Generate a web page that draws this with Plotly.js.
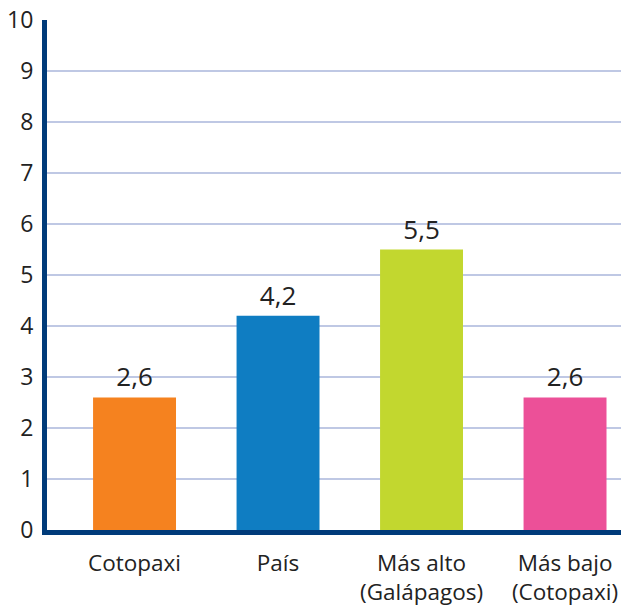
<!DOCTYPE html>
<html><head><meta charset="utf-8">
<script src="https://cdn.plot.ly/plotly-3.0.0.min.js"></script>
<style>html,body{margin:0;padding:0;background:#fff}#c{width:636px;height:613px}</style>
</head><body><div id="c"></div>
<script>
const categories = ["Cotopaxi", "País", "Más alto<br>(Galápagos)", "Más bajo<br>(Cotopaxi)"];
const values = [2.6, 4.2, 5.5, 2.6];
const colors = ["#F5821F", "#0F7DC2", "#C2D72F", "#EC5098"];
const tickVals = [0,1,2,3,4,5,6,7,8,9,10];
const labels = values.map(v => v.toFixed(1).replace('.', ','));

Plotly.newPlot('c', [{
  type: 'bar',
  x: categories,
  y: values,
  marker: {color: colors},
  width: 0.578,
  text: labels,
  textposition: 'outside',
  cliponaxis: false,
  textfont: {family: 'Open Sans, sans-serif', size: 26, color: '#222'},
  hoverinfo: 'none'
}], {
  width: 636, height: 613,
  margin: {l: 47, r: 15, t: 20, b: 83},
  paper_bgcolor: '#fff', plot_bgcolor: '#fff',
  showlegend: false,
  xaxis: {
    type: 'category',
    range: [-0.61, 3.39],
    showline: true, linecolor: '#003B7A', linewidth: 5,
    showgrid: false, zeroline: false,
    ticks: 'outside', ticklen: 9, tickcolor: 'rgba(0,0,0,0)',
    tickfont: {family: 'Open Sans, sans-serif', size: 22.5, color: '#222'}
  },
  yaxis: {
    range: [0, 10],
    tickvals: tickVals,
    showline: true, linecolor: '#003B7A', linewidth: 5,
    showgrid: true, gridcolor: '#BFC8E4', gridwidth: 1.5,
    zeroline: false,
    ticks: 'outside', ticklen: 4, tickcolor: 'rgba(0,0,0,0)',
    tickfont: {family: 'Open Sans, sans-serif', size: 23, color: '#222'}
  }
}, {displayModeBar: false});
</script></body></html>
